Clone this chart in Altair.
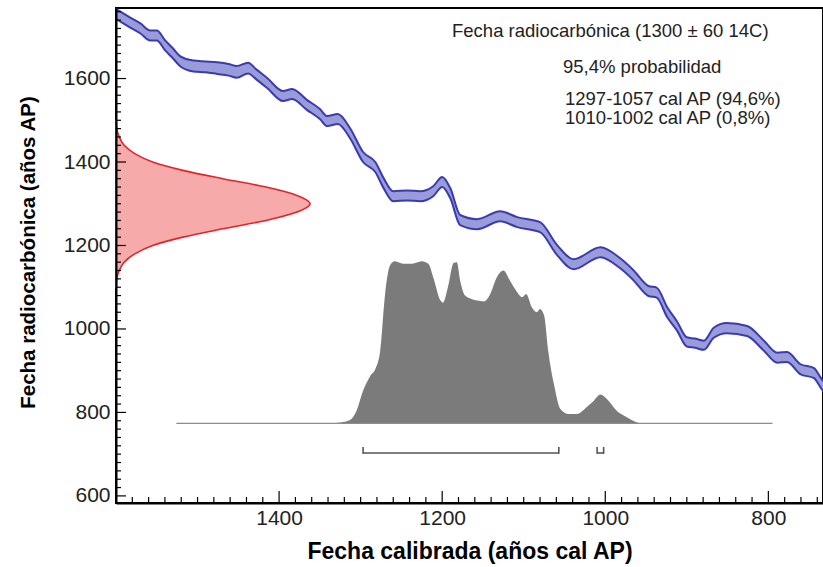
import altair as alt
import pandas as pd

# ---------------- data ----------------
# calibration curve (cal BP -> 14C BP centre) and half-width of the band
curve_cal = [1605, 1600, 1585, 1570, 1558, 1550, 1540, 1530, 1521, 1505, 1490, 1476, 1462, 1452,
             1438, 1428, 1415, 1395, 1384, 1366, 1350, 1341, 1328, 1313, 1297, 1282, 1272, 1260,
             1243, 1227, 1211, 1200, 1190, 1178, 1157, 1129, 1108, 1080, 1059, 1039, 1006, 982,
             966, 947, 937, 924, 912, 900, 890, 879, 867, 851, 826, 806, 789, 777, 761, 744, 734, 728]
curve_c14 = [1762, 1755, 1737, 1720, 1703, 1703, 1680, 1660, 1641, 1630, 1628, 1625, 1621, 1616,
             1625, 1610, 1590, 1558, 1563, 1537, 1515, 1498, 1503, 1469, 1412, 1388, 1350, 1318,
             1320, 1318, 1330, 1352, 1325, 1261, 1251, 1270, 1256, 1244, 1189, 1155, 1184, 1158,
             1130, 1091, 1087, 1040, 1007, 969, 966, 961, 991, 1002, 995, 961, 931, 933, 904, 894, 866, 855]
curve_half = [12, 12, 12, 12, 12, 12, 12, 12, 12, 13, 13, 14, 14, 14,
              13, 12, 12, 12, 12, 12, 12, 12, 12, 12, 12, 12, 12, 12,
              12, 12, 12, 12, 12, 12, 12, 12, 12, 12, 12, 12, 12, 12,
              12, 12, 12, 12, 11, 11, 11, 11, 12, 12, 12, 12, 12, 12, 12, 12, 12, 12]

# radiocarbon date distribution (14C BP -> x position in cal years)
red_c14 = [1100, 1120, 1140, 1160, 1180, 1200, 1220, 1240, 1260, 1280, 1290, 1300,
           1310, 1320, 1340, 1360, 1380, 1400, 1420, 1440, 1460, 1480, 1500]
red_cal = [1599.7, 1599, 1596, 1590, 1577, 1555, 1518, 1469, 1416, 1378, 1367, 1362,
           1367, 1378, 1416, 1469, 1518, 1555, 1577, 1590, 1596, 1599, 1599.7]
red_base = 1600

# calibrated probability distribution (cal BP -> height above baseline)
gray_cal = [1335, 1325, 1313, 1305, 1297, 1288, 1282, 1276, 1270, 1264, 1258, 1248, 1237, 1225,
            1217, 1211, 1202, 1199, 1193, 1186, 1182, 1178, 1172, 1164, 1157, 1149, 1141, 1133,
            1125, 1117, 1108, 1102, 1097, 1090, 1084, 1080, 1075, 1070, 1063, 1055, 1045, 1035,
            1022, 1015, 1006, 998, 986, 973, 961, 955]
gray_h = [0, 2, 8, 30, 78, 114, 130, 174, 310, 378, 388, 382, 382, 388,
          382, 350, 294, 289, 326, 384, 386, 342, 306, 298, 294, 292, 310, 350,
          366, 342, 314, 302, 310, 278, 266, 274, 258, 174, 94, 34, 22, 22,
          40, 52, 69, 58, 30, 14, 2, 0]
gray_level = 774
gray_span = [1526, 795]

# 95.4% ranges
range_from = [1297, 1010]
range_to = [1057, 1002]

# axis ticks
x_major = [800, 1000, 1200, 1400]
x_minor = [v for v in range(740, 1600, 20) if v % 200 != 0]
y_major = [600, 800, 1000, 1200, 1400, 1600]
y_minor = [v for v in range(600, 1770, 20) if v % 200 != 0]

ann_lines = ["Fecha radiocarbónica (1300 ± 60 14C)", "95,4% probabilidad",
             "1297-1057 cal AP (94,6%)", "1010-1002 cal AP (0,8%)"]

FONT = "Liberation Sans"
W, H = 707, 495

# ---------------- frames ----------------
curve_df = pd.DataFrame({
    "cal": curve_cal,
    "lo": [c - h for c, h in zip(curve_c14, curve_half)],
    "hi": [c + h for c, h in zip(curve_c14, curve_half)],
})
red_df = pd.DataFrame({"c14": red_c14, "cal": red_cal, "base": [red_base] * len(red_c14)})
gray_df = pd.DataFrame({"cal": gray_cal, "top": [gray_level + h for h in gray_h],
                        "base": [gray_level] * len(gray_h)})
base_df = pd.DataFrame({"start": [gray_span[0]], "end": [gray_span[1]], "lvl": [gray_level]})
rng_df = pd.DataFrame({"a": range_from, "b": range_to})
rng_ends = pd.DataFrame({"v": range_from + range_to})

xscale = alt.Scale(domain=[733, 1600], reverse=True, nice=False, zero=False)
yscale = alt.Scale(domain=[583, 1769], nice=False, zero=False)

xaxis = alt.Axis(values=x_major, ticks=False, grid=False, domainColor="black", domainWidth=2,
                 labelFont=FONT, labelFontSize=21, labelColor="#222", labelPadding=4,
                 labelFlush=False, title="Fecha calibrada (años cal AP)", titleFont=FONT,
                 titleFontSize=23, titleFontWeight="bold", titleColor="black",
                 titleBaseline="alphabetic", titleY=55, zindex=1, format="d")
yaxis = alt.Axis(values=y_major, ticks=False, grid=False, domainColor="black", domainWidth=2,
                 labelFont=FONT, labelFontSize=21, labelColor="#222", labelPadding=6,
                 labelFlush=False, title="Fecha radiocarbónica (años AP)", titleFont=FONT,
                 titleFontSize=20.5, titleFontWeight="bold", titleColor="black",
                 titleBaseline="alphabetic", titleX=-82, titleY=244, titleAngle=270,
                 zindex=1, format="d")


def X(field):
    return alt.X(field, type="quantitative", scale=xscale, axis=xaxis)


def Y(field):
    return alt.Y(field, type="quantitative", scale=yscale, axis=yaxis)


band = alt.Chart(curve_df).mark_area(
    interpolate="monotone", fill="#9a9bda", stroke="#3a3cae", strokeWidth=2, clip=True
).encode(x=X("cal"), y=Y("lo"), y2="hi:Q")

red = alt.Chart(red_df).mark_area(
    orient="horizontal", interpolate="monotone", fill="#f7aaaa", stroke="#e3232a", strokeWidth=1.6
).encode(y=Y("c14"), x=X("cal"), x2="base:Q")

gray = alt.Chart(gray_df).mark_area(interpolate="monotone", color="#7b7b7b").encode(
    x=X("cal"), y=Y("top"), y2="base:Q")

baseline = alt.Chart(base_df).mark_rule(color="#8c8c8c", strokeWidth=1.2).encode(
    x=X("start"), x2="end:Q", y=Y("lvl"))

brk_h = alt.Chart(rng_df).mark_rule(color="#555555", strokeWidth=1.6).encode(
    x=X("a"), x2="b:Q", y=alt.value(445))
brk_v = alt.Chart(rng_ends).mark_rule(color="#555555", strokeWidth=1.6).encode(
    x=X("v"), y=alt.value(445.8), y2=alt.value(439))


def xticks(vals, length):
    return alt.Chart(pd.DataFrame({"v": vals})).mark_rule(color="black", strokeWidth=1.2).encode(
        x=X("v"), y=alt.value(H), y2=alt.value(H - length))


def yticks(vals, length):
    return alt.Chart(pd.DataFrame({"v": vals})).mark_rule(color="black", strokeWidth=1.2).encode(
        y=Y("v"), x=alt.value(0), x2=alt.value(length))


def label(text, x, y):
    return alt.Chart(pd.DataFrame({"t": [text]})).mark_text(
        align="left", baseline="middle", font=FONT, fontSize=18.5, color="#222"
    ).encode(text="t:N", x=alt.value(x), y=alt.value(y))


texts = [label(ann_lines[0], 336, 23), label(ann_lines[1], 447, 59),
         label(ann_lines[2], 449, 91), label(ann_lines[3], 449, 110)]

chart = alt.layer(
    band, red, gray, baseline, brk_h, brk_v,
    xticks(x_major, 12), xticks(x_minor, 6), yticks(y_major, 10), yticks(y_minor, 5),
    *texts
).properties(
    width=W, height=H,
    autosize=alt.AutoSizeParams(type="none"),
    padding={"left": 116, "top": 8, "right": 0, "bottom": 64},
).configure_view(stroke="black", strokeWidth=2)

chart.save("out.html", embed_options={"renderer": "svg", "actions": False})
